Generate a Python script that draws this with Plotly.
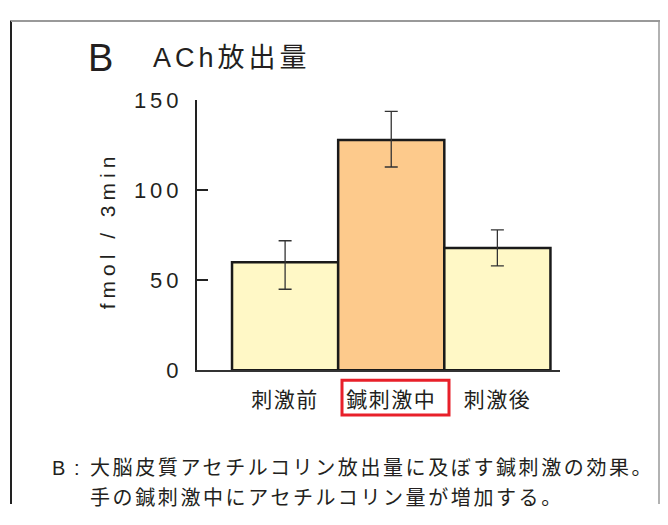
import plotly.graph_objects as go

categories = ["刺激前", "鍼刺激中", "刺激後"]
values = [60, 128, 68]
err_plus = [12, 16, 10]
err_minus = [15, 15, 10]
bar_colors = ["#FFF8C6", "#FDCA8C", "#FFF8C6"]
y_ticks = [0, 50, 100, 150]
y_ticktext = ["0", "50", "100", "150"]

# figure sized to fit inside the window with the page's 8px body margin
OFF = 8
W, H = 668 - 2 * OFF, 525 - 2 * OFF
def px(x):
    return (x - OFF) / W
def py(y):
    # vertical compensation measured from earlier renders
    yy = (y - 11.8) / 0.952
    return min(1.0, max(0.0, 1 - (yy - OFF) / H))

def ls(text, sp):
    return f'<span style="letter-spacing:{sp}px">{text}</span>'

FONT = "Liberation Sans, Arial, Noto Sans CJK JP, sans-serif"
TXT = "#231f20"

fig = go.Figure()
fig.add_trace(go.Bar(
    x=list(range(len(categories))), y=values, width=1,
    marker=dict(color=bar_colors, line=dict(color="#1a1a1a", width=2.5)),
    error_y=dict(type="data", symmetric=False, array=err_plus, arrayminus=err_minus,
                 color="#333333", thickness=1.3, width=6.5),
))

fig.update_layout(
    width=W, height=H, margin=dict(l=0, r=0, t=0, b=0),
    paper_bgcolor="white", plot_bgcolor="white", showlegend=False,
    font=dict(family=FONT, color=TXT),
    xaxis=dict(domain=[px(197), px(560)], range=[-0.83, 2.59],
               tickvals=list(range(len(categories))),
               ticktext=[ls(c, 1.5) for c in categories],
               showline=True, linecolor="#333333", linewidth=1.5, ticks="",
               showgrid=False, zeroline=False, tickfont=dict(size=21, color=TXT),
               ticklabelstandoff=10),
    yaxis=dict(domain=[py(370), py(100)], range=[0, 150],
               tickvals=y_ticks, ticktext=[ls(t, 4) for t in y_ticktext],
               showline=True, linecolor="#222222", linewidth=2,
               ticks="inside", ticklen=11, tickwidth=2, tickcolor="#222222",
               showgrid=False, zeroline=False, tickfont=dict(size=22, color=TXT),
               ticklabelstandoff=8),
)

shapes = [
    dict(type="line", xref="paper", yref="paper", x0=px(11), x1=px(11), y0=0.999, y1=0,
         line=dict(color="#222222", width=2)),
    dict(type="line", xref="paper", yref="paper", x0=px(11), x1=px(660), y0=0.998, y1=0.998,
         line=dict(color="#999999", width=2)),
    dict(type="line", xref="paper", yref="paper", x0=px(659), x1=px(659), y0=0.999, y1=0,
         line=dict(color="#999999", width=1.5)),
    dict(type="rect", xref="paper", yref="paper", x0=px(342), x1=px(449), y0=py(380), y1=py(415),
         line=dict(color="#E8202A", width=3)),
]
fig.update_layout(shapes=shapes)

ann = [
    dict(text="B", x=px(86), y=py(57), xanchor="left", yanchor="middle", font=dict(size=38)),
    dict(text=ls("ACh放出量", 4), x=px(151), y=py(57), xanchor="left", yanchor="middle",
         font=dict(size=27)),
    dict(text=ls("fmol / 3min", 5), x=px(107), y=py(230), textangle=-90,
         xanchor="center", yanchor="middle", font=dict(size=21)),
    dict(text="B", x=px(50), y=py(468), xanchor="left", yanchor="middle", font=dict(size=20)),
    dict(text=":", x=px(77), y=py(468), xanchor="center", yanchor="middle", font=dict(size=20)),
    dict(text=ls("大脳皮質アセチルコリン放出量に及ぼす鍼刺激の効果。", 2.6), x=px(88), y=py(468),
         xanchor="left", yanchor="middle", font=dict(size=20)),
    dict(text=ls("手の鍼刺激中にアセチルコリン量が増加する。", 2.6), x=px(88), y=py(498),
         xanchor="left", yanchor="middle", font=dict(size=20)),
]
for a in ann:
    a.update(xref="paper", yref="paper", showarrow=False)
fig.update_layout(annotations=ann)

fig.write_html("out.html", config={"displayModeBar": False})
